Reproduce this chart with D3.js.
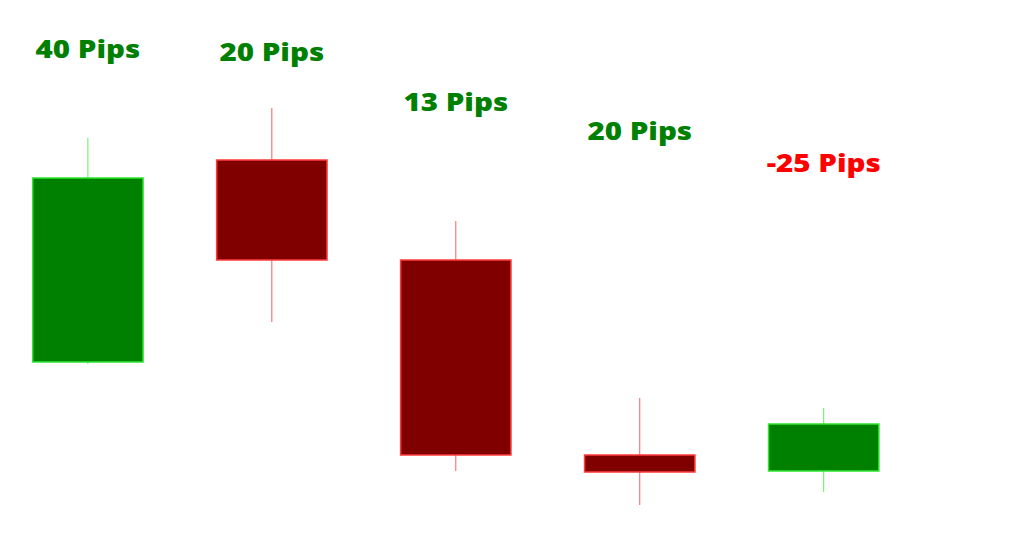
<!DOCTYPE html>
<html>
<head>
<meta charset="utf-8">
<script src="https://cdn.jsdelivr.net/npm/d3@7/dist/d3.min.js"></script>
<style>
  html, body { margin: 0; padding: 0; background: #ffffff; }
  svg { display: block; }
  .pip-label { font-family: "Open Sans", "Noto Sans", sans-serif; font-weight: 800; }
</style>
</head>
<body>
<svg id="chart" width="1024" height="543"></svg>
<script>
// Five candles, prices in chart units
const candles = ["C1", "C2", "C3", "C4", "C5"];
const openVals  = [143, 345, 245, 50, 34];
const closeVals = [327, 245, 50, 33, 81];
const highVals  = [367, 397, 284, 107, 97];
const lowVals   = [141, 183, 34, 0, 13];

// Pip annotations above each candle and the price level they sit at
const pipLabels = ["40 Pips", "20 Pips", "13 Pips", "20 Pips", "-25 Pips"];
const pipValues = [40, 20, 13, 20, -25];
const labelLevel = [447.3, 444.3, 394, 365, 332.7];

const W = 1024, H = 543;
const svg = d3.select("#chart");

const x = d3.scaleBand()
  .domain(candles)
  .range([32.7, 878.9])
  .paddingInner(0.4)
  .paddingOuter(0);

const y = d3.scaleLinear()
  .domain([0, 400])
  .range([505, 105]);

const data = candles.map((c, i) => ({
  key: c,
  open: openVals[i],
  close: closeVals[i],
  high: highVals[i],
  low: lowVals[i],
  label: pipLabels[i],
  pips: pipValues[i],
  level: labelLevel[i]
}));

const colors = {
  up:   { fill: "#008000", edge: "#2ee62e", wick: "#5cf05c" },
  down: { fill: "#800000", edge: "#ff3b3b", wick: "#ff5a5a" }
};
const dir = d => d.close >= d.open ? colors.up : colors.down;
const cx = d => x(d.key) + x.bandwidth() / 2;

const g = svg.append("g");

// wicks
g.selectAll("line.wick")
  .data(data)
  .join("line")
  .attr("class", "wick")
  .attr("x1", cx)
  .attr("x2", cx)
  .attr("y1", d => y(d.high))
  .attr("y2", d => y(d.low))
  .attr("stroke", d => dir(d).wick)
  .attr("stroke-width", 1);

// bodies
g.selectAll("rect.body")
  .data(data)
  .join("rect")
  .attr("class", "body")
  .attr("x", d => x(d.key))
  .attr("width", x.bandwidth())
  .attr("y", d => y(Math.max(d.open, d.close)))
  .attr("height", d => Math.abs(y(d.open) - y(d.close)))
  .attr("fill", d => dir(d).fill)
  .attr("stroke", d => dir(d).edge)
  .attr("stroke-width", 1.5);

// pip annotations, stretched slightly wide
const stretch = 1.23;
g.selectAll("text.pip-label")
  .data(data)
  .join("text")
  .attr("class", "pip-label")
  .attr("transform", d => `translate(${cx(d)},${y(d.level)}) scale(${stretch},1)`)
  .attr("text-anchor", "middle")
  .attr("font-size", 24)
  .attr("fill", d => d.pips < 0 ? "#ff0000" : "#008000")
  .text(d => d.label);
</script>
</body>
</html>
